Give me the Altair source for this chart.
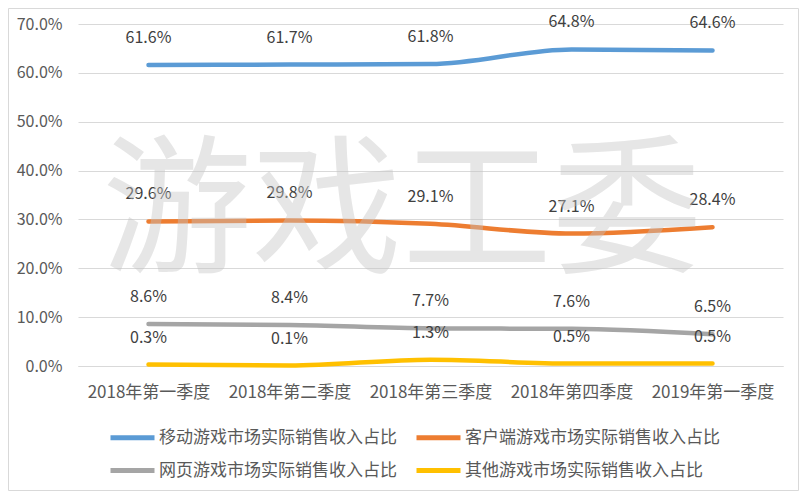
import altair as alt
import pandas as pd

quarters = ["2018年第一季度", "2018年第二季度", "2018年第三季度", "2018年第四季度", "2019年第一季度"]
series_names = ["移动游戏市场实际销售收入占比", "客户端游戏市场实际销售收入占比",
                "网页游戏市场实际销售收入占比", "其他游戏市场实际销售收入占比"]
mobile = [0.616, 0.617, 0.618, 0.648, 0.646]
client = [0.296, 0.298, 0.291, 0.271, 0.284]
web = [0.086, 0.084, 0.077, 0.076, 0.065]
other = [0.003, 0.001, 0.013, 0.005, 0.005]
colors = ["#5B9BD5", "#ED7D31", "#A5A5A5", "#FFC000"]
watermark = ["游戏工委"]

rows = []
for name, vals in zip(series_names, [mobile, client, web, other]):
    for q, v in zip(quarters, vals):
        rows.append({"季度": q, "系列": name, "占比": v})
df = pd.DataFrame(rows)

FONT = "Noto Sans CJK SC"

base = alt.Chart(df).encode(
    x=alt.X("季度:N", sort=quarters, title=None,
            axis=alt.Axis(labelAngle=0, labelFontSize=17, labelColor="#595959", labelFont=FONT,
                          domain=True, domainColor="#d9d9d9", ticks=False, labelPadding=18,
                          grid=False),
            scale=alt.Scale(paddingInner=0, paddingOuter=0.5)),
    y=alt.Y("占比:Q", title=None,
            scale=alt.Scale(domain=[0, 0.7], nice=False),
            axis=alt.Axis(format=".1%", values=[0, 0.1, 0.2, 0.3, 0.4, 0.5, 0.6, 0.7],
                          labelFontSize=16, labelColor="#595959", labelFont=FONT,
                          domain=False, ticks=False, labelPadding=16,
                          grid=True, gridColor="#d9d9d9", gridWidth=1)),
)

lines = base.mark_line(strokeWidth=4.5, interpolate="monotone", strokeCap="round").encode(
    color=alt.Color("系列:N", scale=alt.Scale(domain=series_names, range=colors),
                    legend=alt.Legend(title=None, orient="none", legendX=41, legendY=400,
                                      direction="horizontal", padding=0,
                                      columns=2, symbolType="M-2,0H2", symbolStrokeWidth=5,
                                      symbolSize=484, labelFontSize=17, labelColor="#595959",
                                      labelFont=FONT, labelOffset=13, columnPadding=9,
                                      rowPadding=9, labelLimit=400)),
    detail="系列:N",
)

labels = base.mark_text(dy=-27, fontSize=16, color="#404040", font=FONT).encode(
    text=alt.Text("占比:Q", format=".1%"),
)

wm = alt.Chart(pd.DataFrame({"t": watermark})).mark_text(
    fontSize=150, font=FONT, color="#c4c4c4", opacity=0.42, align="center", baseline="middle"
).encode(text="t:N", x=alt.value(324), y=alt.value(192))

border = alt.Chart(pd.DataFrame({"a": [0]})).mark_rect(
    fill=None, stroke="#d9d9d9", strokeWidth=1
).encode(x=alt.value(-69.5), x2=alt.value(720.5), y=alt.value(-15.5), y2=alt.value(466.5))

chart = alt.layer(lines, labels, wm, border).properties(
    width=705, height=342,
    padding={"left": 70, "top": 16, "right": 16, "bottom": 125},
    autosize=alt.AutoSizeParams(type="none"),
    background="white",
).configure_view(stroke=None)

chart.save("out.html", embed_options={"renderer": "svg", "actions": False})
